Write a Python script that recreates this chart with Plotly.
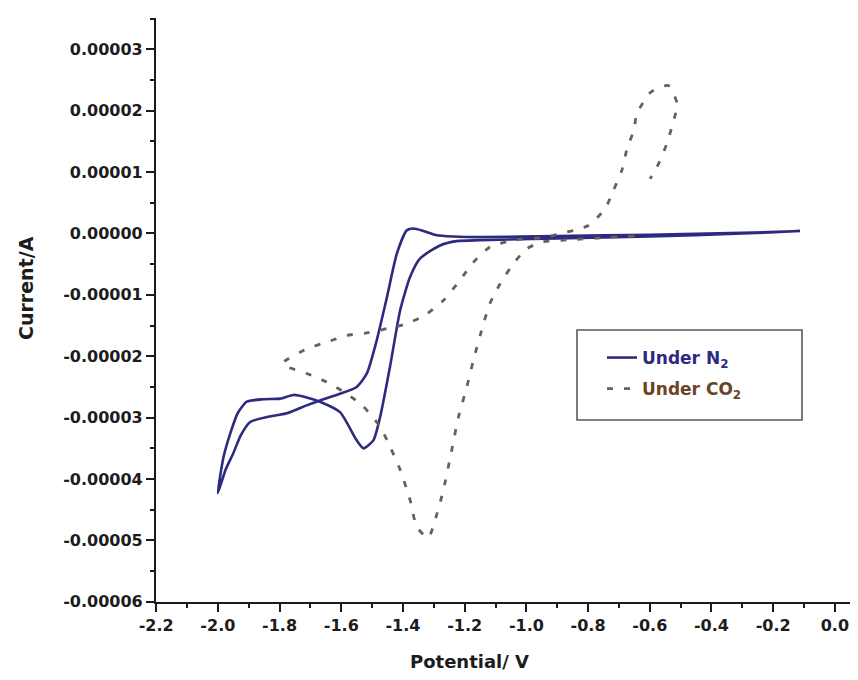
import plotly.graph_objects as go

# ---------------- data ----------------
n2_potential = [-0.113, -0.3, -0.6, -0.9, -1.15, -1.226, -1.280, -1.345, -1.377, -1.409,
                -1.442, -1.474, -1.496, -1.528, -1.550, -1.604, -1.669, -1.712, -1.755,
                -1.798, -1.852, -1.906, -1.935, -1.960, -1.982, -2.0,
                -1.975, -1.950, -1.925, -1.895, -1.841, -1.776, -1.712, -1.669, -1.604,
                -1.550, -1.517, -1.485, -1.452, -1.420, -1.388, -1.366, -1.334, -1.290,
                -1.237, -1.150, -0.9, -0.6, -0.3, -0.113]
n2_current = [0.04e-5, 0.0, -0.05e-5, -0.08e-5, -0.11e-5, -0.125e-5, -0.195e-5, -0.41e-5,
              -0.71e-5, -1.25e-5, -2.17e-5, -2.99e-5, -3.37e-5, -3.50e-5, -3.37e-5, -2.91e-5,
              -2.74e-5, -2.67e-5, -2.63e-5, -2.69e-5, -2.70e-5, -2.74e-5, -2.92e-5, -3.26e-5,
              -3.65e-5, -4.23e-5,
              -3.85e-5, -3.58e-5, -3.28e-5, -3.07e-5, -2.99e-5, -2.93e-5, -2.80e-5, -2.72e-5,
              -2.61e-5, -2.50e-5, -2.28e-5, -1.74e-5, -1.04e-5, -0.33e-5, 0.05e-5, 0.08e-5,
              0.04e-5, -0.03e-5, -0.05e-5, -0.06e-5, -0.04e-5, -0.02e-5, 0.01e-5, 0.04e-5]

co2_potential = [-0.65, -0.75, -0.85, -0.95, -0.999, -1.042, -1.085, -1.118, -1.139, -1.172,
                 -1.193, -1.220, -1.242, -1.269, -1.296, -1.318, -1.355, -1.377, -1.409,
                 -1.442, -1.474, -1.528, -1.582, -1.647, -1.712, -1.776, -1.790,
                 -1.712, -1.647, -1.582, -1.517, -1.452, -1.388, -1.328, -1.269,
                 -1.215, -1.172, -1.118, -1.042, -0.934, -0.891, -0.845, -0.799, -0.745,
                 -0.718, -0.691, -0.675, -0.651, -0.642, -0.597, -0.540, -0.511, -0.526,
                 -0.545, -0.572, -0.599]
co2_current = [-0.04e-5, -0.07e-5, -0.10e-5, -0.14e-5, -0.25e-5, -0.49e-5, -0.82e-5, -1.14e-5,
               -1.47e-5, -2.07e-5, -2.50e-5, -2.99e-5, -3.53e-5, -4.18e-5, -4.67e-5, -4.96e-5,
               -4.78e-5, -4.34e-5, -3.85e-5, -3.47e-5, -3.15e-5, -2.82e-5, -2.61e-5, -2.42e-5,
               -2.28e-5, -2.17e-5, -2.11e-5,
               -1.88e-5, -1.77e-5, -1.66e-5, -1.62e-5, -1.55e-5, -1.47e-5, -1.33e-5,
               -1.09e-5, -0.76e-5, -0.47e-5, -0.22e-5, -0.11e-5, -0.06e-5, 0.0, 0.05e-5,
               0.13e-5, 0.40e-5, 0.70e-5, 1.02e-5, 1.35e-5, 1.70e-5, 1.95e-5, 2.30e-5, 2.41e-5,
               2.11e-5, 1.78e-5, 1.46e-5, 1.13e-5, 0.89e-5]

x_tick_vals = [-2.2, -2.0, -1.8, -1.6, -1.4, -1.2, -1.0, -0.8, -0.6, -0.4, -0.2, 0.0]
x_tick_text = ["-2.2", "-2.0", "-1.8", "-1.6", "-1.4", "-1.2", "-1.0", "-0.8", "-0.6",
               "-0.4", "-0.2", "0.0"]
y_tick_vals = [3e-5, 2e-5, 1e-5, 0.0, -1e-5, -2e-5, -3e-5, -4e-5, -5e-5, -6e-5]
y_tick_text = ["0.00003", "0.00002", "0.00001", "0.00000", "-0.00001", "-0.00002",
               "-0.00003", "-0.00004", "-0.00005", "-0.00006"]

n2_name = "Under N<sub>2</sub>"
co2_name = "Under CO<sub>2</sub>"
x_title = "Potential/ V"
y_title = "Current/A"

# ---------------- styling ----------------
N2_COLOR = "#2c2b80"
CO2_COLOR = "#6e5e58"
AXIS_COLOR = "#1c1c1c"
FONT = "DejaVu Sans, Verdana, sans-serif"

OFF = 8                      # page body margin in the browser
W, H = 858 - OFF, 680 - OFF
ML, MR, MT, MB = 156 - OFF, 0, 18 - OFF, 680 - 602
PW, PH = W - ML - MR, H - MT - MB

def px_x(p):
    return (p - OFF - ML) / PW

def px_y(p):
    return (H - MB - (p - OFF)) / PH

fig = go.Figure()
fig.add_trace(go.Scatter(
    x=n2_potential, y=n2_current, mode="lines", legendgroup="n2",
    name=f"<span style='color:{N2_COLOR}'>{n2_name}</span>",
    line=dict(color=N2_COLOR, width=2.6, shape="spline", smoothing=0.6),
))
fig.add_trace(go.Scatter(
    x=co2_potential, y=co2_current, mode="lines", legendgroup="co2",
    name=f"<span style='color:#6a4426'>{co2_name}</span>",
    line=dict(color=CO2_COLOR, width=2.8, dash="6px,11px", shape="spline", smoothing=0.6),
))

axis_common = dict(
    showline=True, linecolor=AXIS_COLOR, linewidth=2.2,
    ticks="outside", ticklen=8, tickwidth=2, tickcolor=AXIS_COLOR,
    showgrid=False, zeroline=False, mirror=False,
    tickfont=dict(family=FONT, size=16, color=AXIS_COLOR, weight="bold"),
)

fig.update_xaxes(
    range=[-2.2005, 0.075], tickmode="array", tickvals=x_tick_vals, ticktext=x_tick_text,
    minor=dict(tickmode="linear", tick0=-2.2, dtick=0.1, ticks="outside", ticklen=4,
               tickwidth=2, tickcolor=AXIS_COLOR),
    **axis_common,
)
fig.update_yaxes(
    range=[-6.003e-5, 3.51e-5], tickmode="array", tickvals=y_tick_vals, ticktext=y_tick_text,
    minor=dict(tickmode="linear", tick0=0, dtick=0.5e-5, ticks="outside", ticklen=4,
               tickwidth=2, tickcolor=AXIS_COLOR),
    **axis_common,
)

fig.update_layout(
    width=W, height=H,
    margin=dict(l=ML, r=MR, t=MT, b=MB),
    plot_bgcolor="white", paper_bgcolor="white",
    font=dict(family=FONT, size=16, color=AXIS_COLOR, weight="bold"),
    showlegend=True,
    legend=dict(
        x=px_x(602), y=px_y(340), xanchor="left", yanchor="top",
        bgcolor="rgba(0,0,0,0)", borderwidth=0,
        traceorder="grouped", tracegroupgap=6,
        font=dict(family=FONT, size=17, weight="bold"),
    ),
    shapes=[dict(
        type="rect", xref="paper", yref="paper",
        x0=px_x(577), x1=px_x(802), y0=px_y(420), y1=px_y(330),
        line=dict(color="#5a5a5a", width=1.6), fillcolor="rgba(0,0,0,0)",
    )],
    annotations=[
        dict(text=x_title, xref="paper", yref="paper", x=px_x(469), y=px_y(661),
             xanchor="center", yanchor="middle", showarrow=False,
             font=dict(family=FONT, size=18, color=AXIS_COLOR, weight="bold")),
        dict(text=y_title, xref="paper", yref="paper", x=px_x(26), y=px_y(288),
             xanchor="center", yanchor="middle", showarrow=False, textangle=-90,
             font=dict(family=FONT, size=19, color=AXIS_COLOR, weight="bold")),
    ],
)

fig.write_html("out.html")
